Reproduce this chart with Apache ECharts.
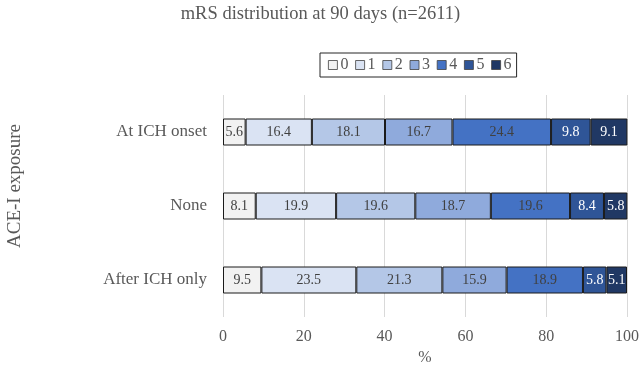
<!DOCTYPE html>
<html>
<head>
<meta charset="utf-8">
<script src="https://cdn.jsdelivr.net/npm/echarts@6/dist/echarts.min.js"></script>
<style>html,body{margin:0;padding:0;background:#fff}#c{width:641px;height:367px}</style>
</head>
<body>
<div id="c"></div>
<script>
const categories = ['At ICH onset', 'None', 'After ICH only'];
const mrsLevels = ['0', '1', '2', '3', '4', '5', '6'];
const mrs0 = [5.6, 8.1, 9.5];
const mrs1 = [16.4, 19.9, 23.5];
const mrs2 = [18.1, 19.6, 21.3];
const mrs3 = [16.7, 18.7, 15.9];
const mrs4 = [24.4, 19.6, 18.9];
const mrs5 = [9.8, 8.4, 5.8];
const mrs6 = [9.1, 5.8, 5.1];
const xTicks = [0, 20, 40, 60, 80, 100];

const values = [mrs0, mrs1, mrs2, mrs3, mrs4, mrs5, mrs6];
const colors = ['#f2f2f2', '#dae3f3', '#b4c7e7', '#8faadc', '#4472c4', '#2f5597', '#203864'];
const labelColors = ['#404040', '#404040', '#404040', '#404040', '#404040', '#ffffff', '#ffffff'];
const FONT = '"Liberation Serif", "Times New Roman", serif';

const series = mrsLevels.map((name, i) => ({
  name: name,
  type: 'bar',
  stack: 'total',
  barWidth: 27,
  data: values[i],
  itemStyle: { color: colors[i], borderColor: '#1a1a1a', borderWidth: 1 },
  label: {
    show: true,
    position: 'inside',
    color: labelColors[i],
    fontFamily: FONT,
    fontSize: 14,
    formatter: p => p.value.toFixed(1)
  }
}));

const chart = echarts.init(document.getElementById('c'), null, { renderer: 'canvas' });
chart.setOption({
  animation: false,
  backgroundColor: '#fff',
  title: {
    text: 'mRS distribution at 90 days (n=2611)',
    left: 'center',
    top: 0,
    textStyle: { fontFamily: FONT, fontSize: 18.5, fontWeight: 'normal', color: '#595959' }
  },
  legend: {
    data: mrsLevels,
    left: 320,
    top: 53,
    padding: [4, 5, 4, 8],
    borderColor: '#262626',
    borderWidth: 1,
    itemWidth: 9,
    itemHeight: 9,
    itemGap: 6.8,
    icon: 'rect',
    itemStyle: { borderColor: '#404040', borderWidth: 0.8 },
    textStyle: { fontFamily: FONT, fontSize: 16, color: '#595959', padding: [0, 0, 0, -2] }
  },
  grid: { left: 223, right: 14, top: 95, bottom: 50, outerBoundsMode: 'none', containLabel: false },
  xAxis: {
    type: 'value',
    min: 0,
    max: 100,
    interval: 20,
    name: '%',
    nameLocation: 'middle',
    nameGap: 33,
    nameTextStyle: { fontFamily: FONT, fontSize: 16, color: '#595959' },
    axisLine: { show: false },
    axisTick: { show: false },
    axisLabel: { fontFamily: FONT, fontSize: 16, color: '#595959', margin: 12,
      formatter: v => xTicks.includes(v) ? String(v) : '' },
    splitLine: { show: true, lineStyle: { color: '#d9d9d9', width: 1 } }
  },
  yAxis: {
    type: 'category',
    data: categories,
    inverse: true,
    name: 'ACE-I exposure',
    nameLocation: 'middle',
    nameGap: 198,
    nameTextStyle: { fontFamily: FONT, fontSize: 19, color: '#595959', padding: [0, 0, 0, 40] },
    axisLine: { show: false },
    axisTick: { show: false },
    axisLabel: { fontFamily: FONT, fontSize: 17, color: '#595959', margin: 16 }
  },
  series: series
});
</script>
</body>
</html>
